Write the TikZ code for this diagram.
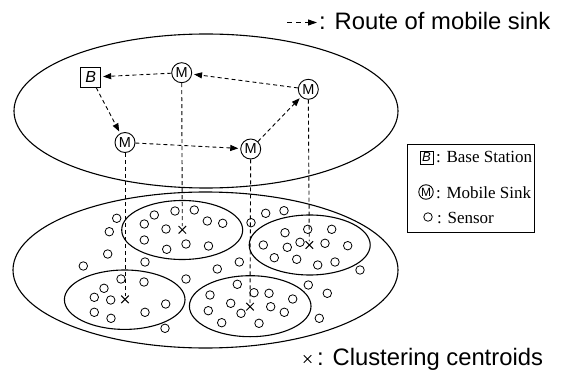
\documentclass[tikz,border=0pt]{standalone}
\usepackage{fontspec}
\setmainfont{Liberation Serif}
\newfontfamily\arialf{Liberation Sans}
\usetikzlibrary{arrows.meta,shapes.misc,shapes.geometric}
\begin{document}
\begin{tikzpicture}[x=1pt,y=-1pt,
  outline/.style={line width=1.1pt},
  region/.style={ellipse, draw, line width=1.1pt, inner sep=0pt},
  route/.style={line width=0.9pt, dash pattern=on 4pt off 3pt, -{Triangle[length=8pt,width=6pt]}, shorten >=2pt},
  drop/.style={line width=0.9pt, dash pattern=on 4pt off 3pt},
  sinknode/.style={circle, draw, line width=0.9pt, minimum size=20pt, inner sep=0pt, fill=white, font=\arialf\fontsize{14.5}{14.5}\selectfont},
  basenode/.style={rectangle, draw, line width=0.9pt, minimum size=20pt, inner sep=0pt, fill=white, font=\arialf\itshape\fontsize{16}{16}\selectfont},
  sensornode/.style={circle, draw, line width=0.8pt, minimum size=8.5pt, inner sep=0pt},
  centroid/.style={cross out, draw, line width=1pt, minimum size=6.5pt, inner sep=0pt},
  legtext/.style={anchor=base west, inner sep=0pt, font=\fontsize{17}{17}\selectfont},
  bigtext/.style={anchor=base west, inner sep=0pt, font=\arialf\fontsize{23.8}{24}\selectfont},
]
\useasboundingbox (0,0) rectangle (561,371);

% planes
\node[region, minimum width=384pt, minimum height=154pt] (upper) at (206,111) {};
\node[region, minimum width=385pt, minimum height=156pt] (lower) at (205.5,270) {};

% clusters
\node[region, minimum width=121pt, minimum height=59pt] (ca) at (182.2,230) {};
\node[region, minimum width=121pt, minimum height=60pt] (cb) at (309.7,245) {};
\node[region, minimum width=120.6pt, minimum height=59.4pt] (cc) at (124.7,299.7) {};
\node[region, minimum width=121.6pt, minimum height=61pt] (cd) at (250.2,306.2) {};

% sensors
\foreach \px/\py [count=\i] in {
 116.7/218.3, 109.3/231.7, 154.3/215, 175/211, 194.3/210, 207.3/221,
 144.3/224, 166/229, 144.3/240, 166.7/249.3, 186/244, 208.5/246,
 107.7/254, 83.3/266, 145/262, 121/279, 144/282, 186/279,
 222.7/223.3, 251/222.7, 265.7/213.3, 284/210.7, 285/232.7, 307.7/229.3,
 331.7/229.3, 263.3/245, 287.3/247.3, 300/242.3, 325/243.3, 347.7/245.7,
 274.3/257.7, 296.7/259.3, 317.7/265, 335/262, 360/270, 239.3/262,
 217.3/269, 104/288.3, 94.3/297.3, 110.7/300, 94.3/312.3, 111/318.3,
 145/312.3, 165.7/304, 165/328.3, 237.3/284.3, 254/292.7, 269/293.3,
 210/295, 230.7/303.3, 292.7/299, 308.3/285, 327.3/293.3, 208.3/310.7,
 241/313.3, 270.7/306.7, 284.3/312.3, 221.7/322.7, 259/323.3, 319.3/318.3}
  \node[sensornode] (s\i) at (\px,\py) {};

% centroids
\node[centroid] (xa) at (182.3,229.8) {};
\node[centroid] (xb) at (309.3,245) {};
\node[centroid] (xc) at (125,299.3) {};
\node[centroid] (xd) at (250,306.7) {};

% sinks and base station
\node[basenode] (bs) at (90.7,77.2) {B};
\node[sinknode] (m1) at (181.7,72.7) {M};
\node[sinknode] (m2) at (308.3,89.3) {M};
\node[sinknode] (m3) at (125,142.5) {M};
\node[sinknode] (m4) at (250.7,149) {M};

% drops to centroids
\draw[drop] (m1) -- (xa);
\draw[drop] (m2) -- (xb);
\draw[drop] (m3) -- (xc);
\draw[drop] (m4) -- (xd);

% route
\draw[route] (m1) -- (bs);
\draw[route] (bs) -- (m3);
\draw[route] (m3) -- (m4);
\draw[route] (m4) -- (m2);
\draw[route] (m2) -- (m1);

% route legend
\coordinate (ra) at (287,22.5);
\coordinate (rb) at (317,22.5);
\draw[line width=0.9pt, dash pattern=on 5pt off 4pt, -{Triangle[length=9pt,width=6pt]}] (ra) -- (rb);
\node[bigtext] (routetxt) at (319,30) {: Route of mobile sink};

% centroid legend
\node[centroid] (xl) at (307.5,359) {};
\node[bigtext] (centtxt) at (317,365) {: Clustering centroids};

% legend box
\node[draw, line width=1pt, minimum width=127pt, minimum height=87pt, inner sep=0pt] (legend) at (470.5,188.5) {};
\node[basenode, minimum size=13pt, font=\arialf\itshape\fontsize{13}{13}\selectfont] (lb) at (426.5,157.5) {B};
\node[sinknode, minimum size=14.5pt, font=\arialf\fontsize{12}{12}\selectfont] (lm) at (426,192) {M};
\node[sensornode] (ls) at (428,217) {};
\node[legtext] (lbt) at (436,163) {: Base Station};
\node[legtext] (lmt) at (436,198) {: Mobile Sink};
\node[legtext] (lst) at (437,223) {: Sensor};
\end{tikzpicture}
\end{document}
